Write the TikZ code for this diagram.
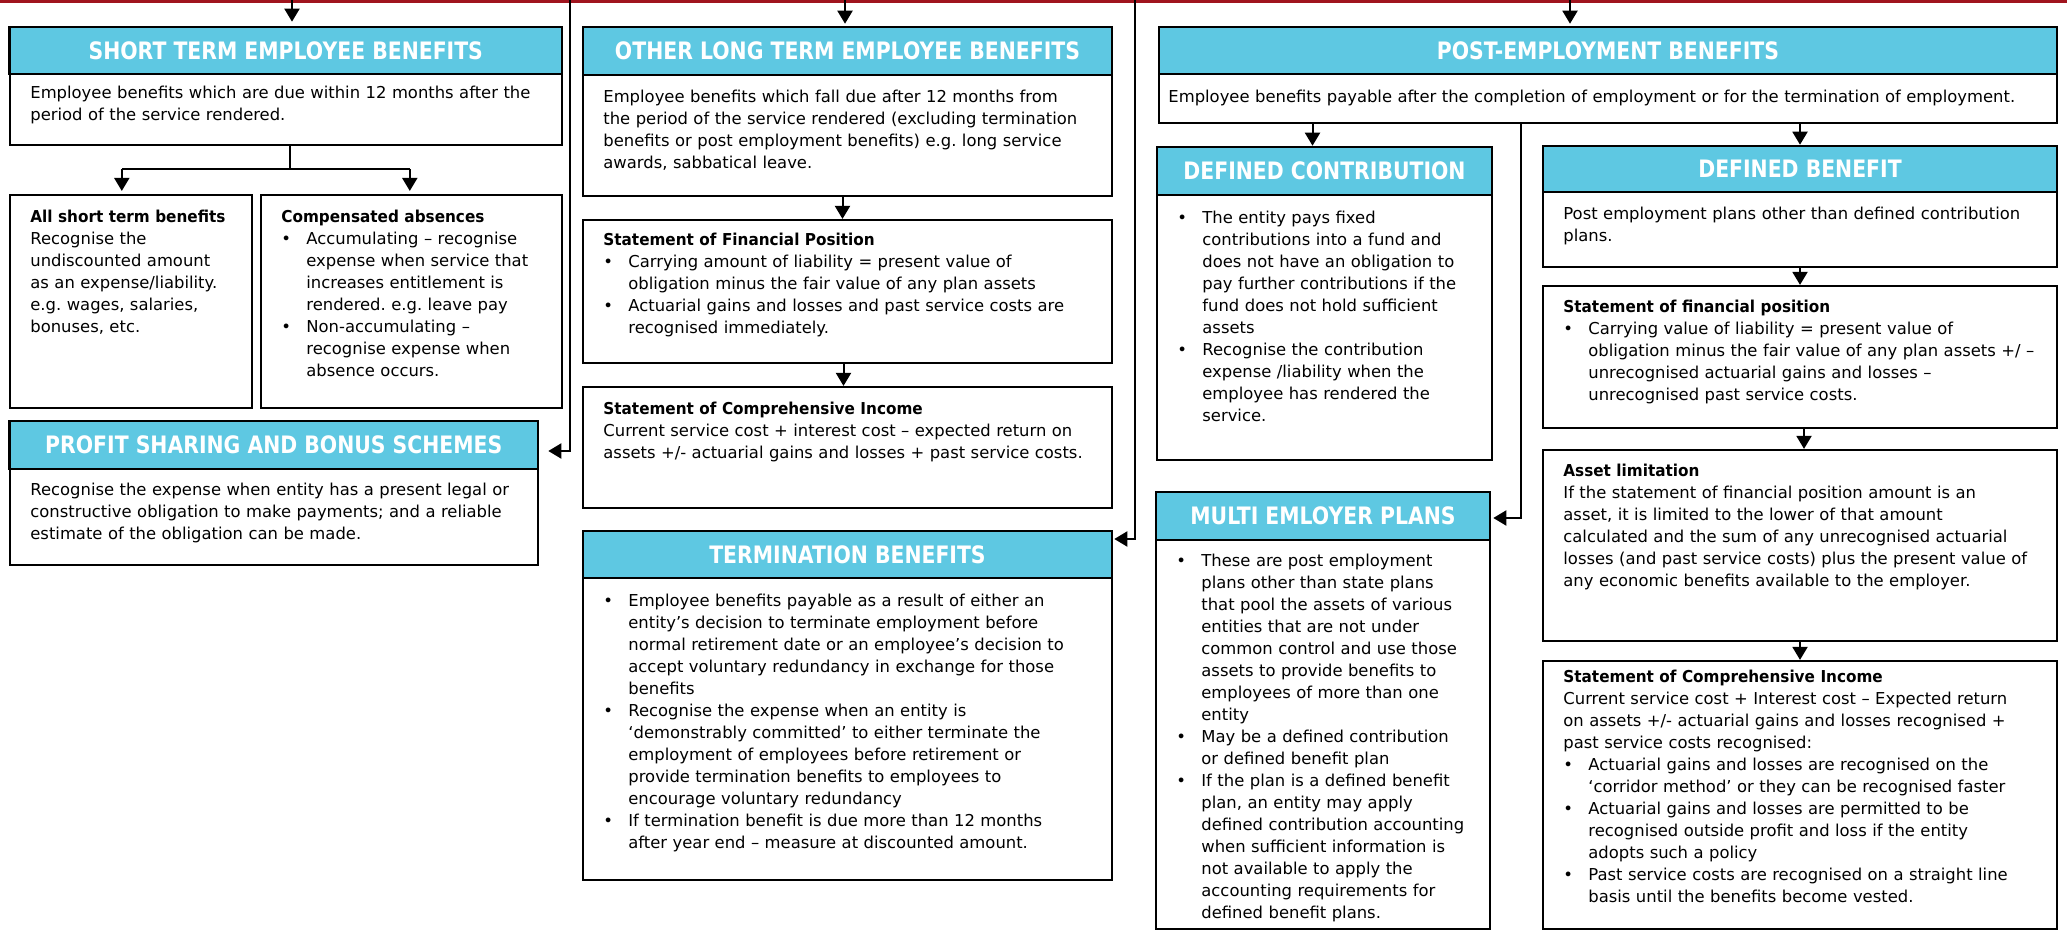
\documentclass[tikz,border=0pt]{standalone}
\usepackage{fontspec}
\setmainfont{DejaVu Sans}[BoldFeatures={FakeStretch=0.93}]
\newfontfamily\hdrfont{DejaVu Sans}[FakeStretch=0.85]
\usetikzlibrary{arrows.meta,fit,calc}
\definecolor{hdrblue}{RGB}{94,200,226}
\definecolor{topred}{RGB}{160,20,30}
\newcommand\nl{\hfil\break}
\newcommand\bfirst{\noindent\hangindent=12.5pt\hangafter=1\makebox[12.5pt][l]{\textbullet}}
\newcommand\bul{\par\bfirst}
\tikzset{
  x=0.5pt, y=-0.5pt,
  bx/.style={draw=black, line width=1.1pt, fill=white, inner sep=0pt},
  hd/.style={draw=black, line width=1.3pt, fill=hdrblue, inner sep=0pt},
  hdt/.style={anchor=center, inner sep=0pt, text=white,
    text height=8.8pt, text depth=0pt,
    font=\hdrfont\bfseries\fontsize{12}{14}\selectfont},
  txt/.style={anchor=north west, inner sep=0pt, text=black,
    font=\fontsize{8.2}{11}\selectfont\frenchspacing,
    execute at begin node={\setlength{\parindent}{0pt}\setlength{\parskip}{0pt}}},
  arr/.style={draw=black, line width=1pt, -{Triangle[length=6.5pt,width=7.5pt]}},
  ln/.style={draw=black, line width=1pt},
}
\newcommand\header[4]{% name, corner1, corner2, title
  \node[hd, fit={#2 #3}] (#1) {};
  \node[hdt] (#1-t) at (#1.center) {#4};}
\begin{document}
\begin{tikzpicture}
\useasboundingbox (0,0) rectangle (2067,934);
\fill[white] (0,0) rectangle (2067,934);
% top bar
\node[fit={(0,0)(2067,3)}, fill=topred, inner sep=0pt] (bar) {};
\coordinate (t1) at (292,0);
\coordinate (t2) at (845,0);
\coordinate (t3) at (1570,0);
\coordinate (t4) at (570,0);
\coordinate (t5) at (1135,0);

% ---------------- left column
\node[bx, fit={(9.6,74)(562,145)}] (STb) {};
\header{STh}{(9.6,27)}{(562,74)}{SHORT TERM EMPLOYEE BENEFITS}
\node[txt, text width=266pt] (STt) at (30,86) {Employee benefits which are due within 12 months after the\nl period of the service rendered.};

\node[bx, fit={(9.6,195)(252,408)}] (ASB) {};
\node[txt, text width=111pt] (ASBt) at (30,210) {{\bfseries All short term benefits}\nl Recognise the\nl undiscounted amount\nl as an expense/liability.\nl e.g. wages, salaries,\nl bonuses, etc.};

\node[bx, fit={(261,195)(562,408)}] (CA) {};
\node[txt, text width=140pt] (CAt) at (281,210) {{\bfseries Compensated absences}\bul Accumulating – recognise\nl expense when service that\nl increases entitlement is\nl rendered. e.g. leave pay\bul Non-accumulating –\nl recognise expense when\nl absence occurs.\par};

\node[bx, fit={(9.6,469)(538,565)}] (PSb) {};
\header{PSh}{(9.6,421)}{(538,469)}{PROFIT SHARING AND BONUS SCHEMES}
\node[txt, text width=254pt] (PSt) at (30,483) {Recognise the expense when entity has a present legal or\nl constructive obligation to make payments; and a reliable\nl estimate of the obligation can be made.};

% ---------------- middle column
\node[bx, fit={(583,75)(1112,196)}] (OLb) {};
\header{OLh}{(583,27)}{(1112,75)}{OTHER LONG TERM EMPLOYEE BENEFITS}
\node[txt, text width=254pt] (OLt) at (603,90) {Employee benefits which fall due after 12 months from\nl the period of the service rendered (excluding termination\nl benefits or post employment benefits) e.g. long service\nl awards, sabbatical leave.};

\node[bx, fit={(583,220)(1112,363)}] (SFP) {};
\node[txt, text width=254pt] (SFPt) at (603,233) {{\bfseries Statement of Financial Position}\bul Carrying amount of liability = present value of\nl obligation minus the fair value of any plan assets\bul Actuarial gains and losses and past service costs are\nl recognised immediately.\par};

\node[bx, fit={(583,387)(1112,508)}] (SCI) {};
\node[txt, text width=254pt] (SCIt) at (603,402) {{\bfseries Statement of Comprehensive Income}\nl Current service cost + interest cost – expected return on\nl assets +/- actuarial gains and losses + past service costs.};

\node[bx, fit={(583,578)(1112,880)}] (TBb) {};
\header{TBh}{(583,531)}{(1112,578)}{TERMINATION BENEFITS}
\node[txt, text width=254pt] (TBt) at (603,594) {\bfirst Employee benefits payable as a result of either an\nl entity’s decision to terminate employment before\nl normal retirement date or an employee’s decision to\nl accept voluntary redundancy in exchange for those\nl benefits\bul Recognise the expense when an entity is\nl ‘demonstrably committed’ to either terminate the\nl employment of employees before retirement or\nl provide termination benefits to employees to\nl encourage voluntary redundancy\bul If termination benefit is due more than 12 months\nl after year end – measure at discounted amount.\par};

% ---------------- right column
\node[bx, fit={(1159,74)(2057,123)}] (PEb) {};
\header{PEh}{(1159,27)}{(2057,74)}{POST-EMPLOYMENT BENEFITS}
\node[txt, text width=440pt] (PEt) at (1168,90) {Employee benefits payable after the completion of employment or for the termination of employment.};

\node[bx, fit={(1157,195)(1492,460)}] (DCb) {};
\header{DCh}{(1157,147)}{(1492,195)}{DEFINED CONTRIBUTION}
\node[txt, text width=157pt] (DCt) at (1177,211) {\bfirst The entity pays fixed\nl contributions into a fund and\nl does not have an obligation to\nl pay further contributions if the\nl fund does not hold sufficient\nl assets\bul Recognise the contribution\nl expense /liability when the\nl employee has rendered the\nl service.\par};

\node[bx, fit={(1156,540)(1490,929)}] (MEb) {};
\header{MEh}{(1156,492)}{(1490,540)}{MULTI EMLOYER PLANS}
\node[txt, text width=157pt] (MEt) at (1176,554) {\bfirst These are post employment\nl plans other than state plans\nl that pool the assets of various\nl entities that are not under\nl common control and use those\nl assets to provide benefits to\nl employees of more than one\nl entity\bul May be a defined contribution\nl or defined benefit plan\bul If the plan is a defined benefit\nl plan, an entity may apply\nl defined contribution accounting\nl when sufficient information is\nl not available to apply the\nl accounting requirements for\nl defined benefit plans.\par};

\node[bx, fit={(1543,192)(2057,267)}] (DBb) {};
\header{DBh}{(1543,146)}{(2057,192)}{DEFINED BENEFIT}
\node[txt, text width=247pt] (DBt) at (1563,207) {Post employment plans other than defined contribution\nl plans.};

\node[bx, fit={(1543,286)(2057,428)}] (DSF) {};
\node[txt, text width=247pt] (DSFt) at (1563,300) {{\bfseries Statement of financial position}\bul Carrying value of liability = present value of\nl obligation minus the fair value of any plan assets +/ –\nl unrecognised actuarial gains and losses –\nl unrecognised past service costs.\par};

\node[bx, fit={(1543,450)(2057,641)}] (AL) {};
\node[txt, text width=247pt] (ALt) at (1563,464) {{\bfseries Asset limitation}\nl If the statement of financial position amount is an\nl asset, it is limited to the lower of that amount\nl calculated and the sum of any unrecognised actuarial\nl losses (and past service costs) plus the present value of\nl any economic benefits available to the employer.};

\node[bx, fit={(1543,661)(2057,929)}] (DSC) {};
\node[txt, text width=247pt] (DSCt) at (1563,670) {{\bfseries Statement of Comprehensive Income}\nl Current service cost + Interest cost – Expected return\nl on assets +/- actuarial gains and losses recognised +\nl past service costs recognised:\bul Actuarial gains and losses are recognised on the\nl ‘corridor method’ or they can be recognised faster\bul Actuarial gains and losses are permitted to be\nl recognised outside profit and loss if the entity\nl adopts such a policy\bul Past service costs are recognised on a straight line\nl basis until the benefits become vested.\par};

% ---------------- connectors
\draw[arr, shorten >=2pt] (t1) -- (t1 |- STh.north);
\draw[arr, shorten >=1pt] (t2) -- (t2 |- OLh.north);
\draw[arr, shorten >=1pt] (t3) -- (t3 |- PEh.north);
\draw[arr] (t4) |- ([xshift=4.5pt,yshift=-3pt]PSh.east);
\draw[arr] (t5) |- ([xshift=0.5pt,yshift=7.75pt]TBh.east);

\draw[ln] ([xshift=2pt]STb.south) -- ++(0,23) coordinate (stj);
\draw[arr, shorten >=1.5pt] ($(stj)+(-168,0)$) coordinate (stl) -- (stl |- ASB.north);
\draw[ln] (stl) -- ($(stj)+(120,0)$) coordinate (str);
\draw[arr, shorten >=1.5pt] (str) -- (str |- CA.north);

\draw[arr] ([xshift=-2.5pt]OLb.south) -- ([xshift=-2.5pt]SFP.north);
\draw[arr] ([xshift=-2pt]SFP.south) -- ([xshift=-2pt]SCI.north);

\draw[arr] ([xshift=-6pt]DCh.north |- PEb.south) -- ([xshift=-6pt]DCh.north);
\draw[arr] (DBh.north |- PEb.south) -- (DBh.north);
\draw[arr] ([xshift=15pt]MEh.east |- PEb.south) |- ([xshift=1pt,yshift=-1pt]MEh.east);

\draw[arr] (DBb.south) -- (DSF.north);
\draw[arr] ([xshift=2pt]DSF.south) -- ([xshift=2pt]AL.north);
\draw[arr] (AL.south) -- (DSC.north);
\end{tikzpicture}
\end{document}
